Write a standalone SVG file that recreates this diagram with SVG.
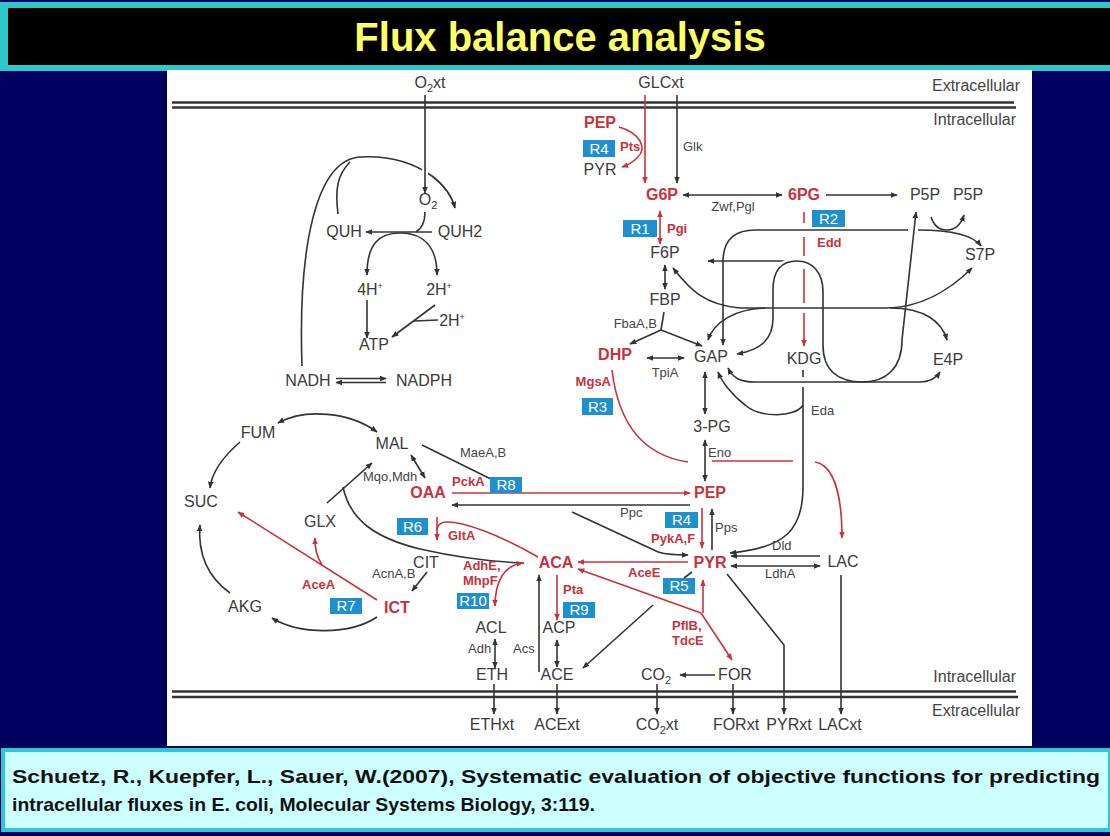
<svg xmlns="http://www.w3.org/2000/svg" width="1110" height="836" viewBox="0 0 1110 836">
<defs>
<marker id="ab" viewBox="0 0 10 10" refX="9" refY="5" markerWidth="7" markerHeight="7" orient="auto-start-reverse" markerUnits="userSpaceOnUse"><path d="M0,1 L10,5 L0,9 z" fill="#333"/></marker>
<marker id="ar" viewBox="0 0 10 10" refX="9" refY="5" markerWidth="7" markerHeight="7" orient="auto-start-reverse" markerUnits="userSpaceOnUse"><path d="M0,1 L10,5 L0,9 z" fill="#c8323c"/></marker>
<style>
text{font-family:"Liberation Sans",Arial,sans-serif}
.m{font-size:16px;fill:#3a3a3a;text-anchor:middle}
.mr{font-size:16px;fill:#c8323c;font-weight:bold;text-anchor:middle}
.e{font-size:13px;fill:#444}
.er{font-size:13px;fill:#c8323c;font-weight:bold}
.rb{fill:#1e90d0}
.rt{font-size:15px;fill:#fff;text-anchor:middle}
.mem{stroke:#333;stroke-width:2.5;fill:none}
.side{font-size:16px;fill:#444;text-anchor:end}
.k{stroke:#333;stroke-width:1.6;fill:none}
.r{stroke:#c8323c;stroke-width:1.6;fill:none}
.halo{stroke:#fff;stroke-width:6;fill:none}
.ka{marker-end:url(#ab)}
.kb{marker-start:url(#ab);marker-end:url(#ab)}
.ra{marker-end:url(#ar)}
.rbb{marker-start:url(#ar);marker-end:url(#ar)}
.cite{font-size:19px;font-weight:bold;fill:#111}
</style>
</defs>
<rect x="0" y="0" width="1110" height="836" fill="#00005f"/>
<g id="title">
<rect x="0" y="2" width="1110" height="69" fill="#2ec7cc"/>
<rect x="8" y="8" width="1102" height="57" fill="#000"/>
<text x="560" y="51" font-size="40" font-weight="bold" fill="#ffff66" text-anchor="middle">Flux balance analysis</text>
</g>
<rect id="panel" x="167" y="70" width="865" height="676" fill="#fff"/>
<g id="citation">
<rect x="3" y="750" width="1107" height="80" fill="#ccffff" stroke="#2ec7d8" stroke-width="4"/>
<text class="cite" x="12" y="783" textLength="1088" lengthAdjust="spacingAndGlyphs">Schuetz, R., Kuepfer, L., Sauer, W.(2007), Systematic evaluation of objective functions for predicting</text>
<text class="cite" x="12" y="811" textLength="583" lengthAdjust="spacingAndGlyphs">intracellular fluxes in E. coli, Molecular Systems Biology, 3:119.</text>
</g>
<g id="membranes">
<line class="mem" x1="172" y1="102.5" x2="1014" y2="102.5"/>
<line class="mem" x1="172" y1="107.5" x2="1016" y2="107.5"/>
<line class="mem" x1="172" y1="691.5" x2="1016" y2="691.5"/>
<line class="mem" x1="172" y1="697" x2="1018" y2="697"/>
<text class="side" x="1020" y="91">Extracellular</text>
<text class="side" x="1016" y="125">Intracellular</text>
<text class="side" x="1016" y="682">Intracellular</text>
<text class="side" x="1020" y="716">Extracellular</text>
</g>
<g id="connectors">
<path class="k ka" d="M302,366 C298,250 315,160 360,157 C395,155 418,166 432,176 C445,186 452,196 455,208"/>
<path class="k" d="M338,214 C335,190 337,175 350,162"/>
<line class="halo" x1="425" y1="150" x2="425" y2="185"/>
<path class="k ka" d="M425,95 L425,193"/>
<path class="k" d="M425,212 C425,222 421,229 416,232"/>
<path class="k ka" d="M432,232 L366,232"/>
<path class="k kb" d="M367,275 C367,245 378,233 400,233 C422,233 437,245 437,275"/>
<path class="k ka" d="M367,300 L367,338"/>
<path class="k ka" d="M435,305 L392,337"/>
<path class="k" d="M414,321 L438,320"/>
<path class="k ka" d="M336,378.5 L386,378.5" stroke-width="1.3"/>
<path class="k ka" d="M386,382.5 L336,382.5" stroke-width="1.3"/>
<path class="r ra" d="M645,95 L645,183"/>
<path class="k ka" d="M677,95 L677,183"/>
<path class="r ra" d="M619,127 C640,133 648,148 637,158 C632,163 628,165 622,167"/>
<path class="k kb" d="M683,195 L782,195"/>
<path class="k ka" d="M826,195 L897,195"/>
<path class="r rbb" d="M660,211 L660,244"/>
<path class="r" d="M804,212 L804,223 M804,237 L804,256 M804,269 L804,303"/>
<path class="r ra" d="M804,313 L804,346"/>
<path class="k kb" d="M665,265 L665,289"/>
<path class="k" d="M664,312 L661,330"/>
<path class="k ka" d="M661,330 L630,344"/>
<path class="k ka" d="M661,330 L702,346"/>
<path class="k kb" d="M647,358 L684,358"/>
<path class="k kb" d="M705,372 L705,414"/>
<path class="k kb" d="M705,440 L705,481"/>
<path class="k ka" d="M908,230 L755,230 C735,230 723,240 723,262 L723,345"/>
<path class="k ka" d="M918,230 C950,230 972,234 981,246"/>
<path class="k ka" d="M931,217 C934,226 940,230 947,230 C956,230 961,224 964,215"/>
<path class="k ka" d="M790,261 L708,261"/>
<path class="k" d="M673,268 C690,290 705,305 740,308 L885,308 C920,308 950,290 972,268" marker-start="url(#ab)" marker-end="url(#ab)"/>
<path class="k" d="M708,340 C714,322 735,309 765,308" marker-start="url(#ab)"/>
<path class="k ka" d="M890,308 C925,308 942,322 947,340"/>
<path class="halo" d="M773,300 L773,290 C773,268 783,261 797,261 C812,261 823,272 823,292 L823,300 M823,318 L823,345 M902,330 L904,318" stroke-width="5"/>
<path class="k kb" d="M737,354 C760,350 773,340 773,318 L773,290 C773,268 783,261 797,261 C812,261 823,272 823,292 L823,345 C823,372 840,382 863,382 C886,382 902,368 902,340 L916,212"/>
<path class="k kb" d="M728,368 C733,378 740,382 755,382 L920,382 C930,382 936,378 940,372"/>
<path class="k" d="M803,370 L803,377"/>
<path class="k ka" d="M803,387 L803,487 C803,530 785,548 730,553"/>
<path class="k ka" d="M803,405 C795,418 760,418 745,405 C732,395 722,382 718,372"/>
<path class="r" d="M612,370 C618,420 640,455 688,462 M712,461 L793,461"/>
<path class="r ra" d="M815,462 C832,465 842,490 842,538"/>
<path class="r ra" d="M452,493 L690,493"/>
<path class="k ka" d="M690,505 L452,505"/>
<path class="k" d="M422,445 L505,486"/>
<path class="k ka" d="M572,512 L656,551 C662,554 670,555 688,555"/>
<path class="r ra" d="M702,508 L702,548"/>
<path class="k ka" d="M712,550 L712,509"/>
<path class="r ra" d="M688,562 L578,562"/>
<path class="r ra" d="M701,613 L578,569"/>
<path class="r ra" d="M701,613 L732,660"/>
<path class="r ra" d="M703,613 L703,580"/>
<path class="k" d="M684,578 L692,572"/>
<path class="r ra" d="M557,575 L557,620"/>
<path class="k ka" d="M539,672 L539,575"/>
<path class="k kb" d="M557,640 L557,667"/>
<path class="k kb" d="M495,639 L495,668"/>
<path class="k ka" d="M653,605 L583,668"/>
<path class="k ka" d="M715,675 L680,675"/>
<path class="k ka" d="M727,574 L784,645 L784,714"/>
<path class="k ka" d="M820,556 L731,556"/>
<path class="k kb" d="M731,566 L820,566"/>
<path class="k ka" d="M841,575 L841,714"/>
<path class="k ka" d="M494,684 L494,714"/>
<path class="k ka" d="M557,684 L557,714"/>
<path class="k ka" d="M657,684 L657,714"/>
<path class="k ka" d="M733,684 L733,714"/>
<path class="k kb" d="M278,423 C305,408 350,412 377,432"/>
<path class="k ka" d="M240,442 C225,455 212,470 210,488"/>
<path class="k ka" d="M230,593 C205,575 198,550 200,525"/>
<path class="k ka" d="M377,617 C350,635 300,635 272,618"/>
<path class="k ka" d="M427,572 L412,591"/>
<path class="k kb" d="M411,455 L425,478"/>
<path class="k ka" d="M327,503 L372,463"/>
<path class="k" d="M343,487 C350,520 375,538 420,549 C460,558 495,562 524,563"/>
<path class="r ra" d="M377,600 L238,512"/>
<path class="r ra" d="M322,565 C316,555 315,548 315,538"/>
<path class="r ra" d="M437,517 L437,540"/>
<path class="r" d="M538,557 C500,535 465,522 447,522 C440,522 437,526 437,530"/>
<path class="r rbb" d="M523,563 C505,565 495,580 495,606"/>
</g>
<g id="n-o2xt"><text class="m" x="430" y="88">O<tspan font-size="11" dy="4">2</tspan><tspan dy="-4">xt</tspan></text></g>
<g id="n-glcxt"><text class="m" x="661" y="88">GLCxt</text></g>
<g id="n-o2"><text class="m" x="428" y="205">O<tspan font-size="11" dy="4">2</tspan></text></g>
<g id="n-quh"><text class="m" x="344" y="237">QUH</text></g>
<g id="n-quh2"><text class="m" x="460" y="237">QUH2</text></g>
<g id="n-4h"><text class="m" x="370" y="295">4H<tspan font-size="9" dy="-6">+</tspan></text></g>
<g id="n-2h"><text class="m" x="439" y="295">2H<tspan font-size="9" dy="-6">+</tspan></text></g>
<g id="n-2h2"><text class="m" x="452" y="326">2H<tspan font-size="9" dy="-6">+</tspan></text></g>
<g id="n-atp"><text class="m" x="374" y="350">ATP</text></g>
<g id="n-nadh"><text class="m" x="308" y="386">NADH</text></g>
<g id="n-nadph"><text class="m" x="424" y="386">NADPH</text></g>
<g id="n-pep1"><text class="mr" x="600" y="128">PEP</text></g>
<g id="r4a"><rect class="rb" x="583" y="140" width="32" height="17"/><text class="rt" x="599" y="154">R4</text></g>
<g id="n-pyr1"><text class="m" x="600" y="175">PYR</text></g>
<g id="n-g6p"><text class="mr" x="662" y="200">G6P</text></g>
<g id="n-6pg"><text class="mr" x="804" y="200">6PG</text></g>
<g id="n-p5p1"><text class="m" x="925" y="200">P5P</text></g>
<g id="n-p5p2"><text class="m" x="968" y="200">P5P</text></g>
<g id="r2"><rect class="rb" x="812" y="210" width="33" height="17"/><text class="rt" x="828.5" y="224">R2</text></g>
<g id="r1"><rect class="rb" x="623" y="220" width="34" height="17"/><text class="rt" x="640" y="234">R1</text></g>
<g id="n-f6p"><text class="m" x="665" y="258">F6P</text></g>
<g id="n-s7p"><text class="m" x="980" y="260">S7P</text></g>
<g id="n-fbp"><text class="m" x="665" y="305">FBP</text></g>
<g id="n-dhp"><text class="mr" x="615" y="360">DHP</text></g>
<g id="n-gap"><text class="m" x="711" y="362" font-size="18">GAP</text></g>
<g id="n-kdg"><text class="m" x="804" y="364" font-size="17">KDG</text></g>
<g id="n-e4p"><text class="m" x="948" y="365">E4P</text></g>
<g id="r3"><rect class="rb" x="582" y="398" width="31" height="17"/><text class="rt" x="597.5" y="412">R3</text></g>
<g id="n-3pg"><text class="m" x="712" y="432" font-size="17">3-PG</text></g>
<g id="n-fum"><text class="m" x="258" y="438">FUM</text></g>
<g id="n-mal"><text class="m" x="392" y="449">MAL</text></g>
<g id="r8"><rect class="rb" x="490" y="477" width="32" height="16"/><text class="rt" x="506" y="490">R8</text></g>
<g id="n-oaa"><text class="mr" x="428" y="498">OAA</text></g>
<g id="n-pep2"><text class="mr" x="710" y="498">PEP</text></g>
<g id="n-suc"><text class="m" x="201" y="507">SUC</text></g>
<g id="r4b"><rect class="rb" x="665" y="512" width="33" height="16"/><text class="rt" x="681.5" y="525">R4</text></g>
<g id="r6"><rect class="rb" x="397" y="518" width="31" height="17"/><text class="rt" x="412.5" y="532">R6</text></g>
<g id="n-glx"><text class="m" x="320" y="527">GLX</text></g>
<g id="n-cit"><text class="m" x="426" y="568">CIT</text></g>
<g id="n-aca"><text class="mr" x="556" y="568">ACA</text></g>
<g id="n-pyr2"><text class="mr" x="710" y="568">PYR</text></g>
<g id="n-lac"><text class="m" x="843" y="567">LAC</text></g>
<g id="r5"><rect class="rb" x="663" y="578" width="32" height="16"/><text class="rt" x="679" y="591">R5</text></g>
<g id="r10"><rect class="rb" x="457" y="593" width="32" height="16"/><text class="rt" x="473" y="606">R10</text></g>
<g id="r7"><rect class="rb" x="330" y="598" width="32" height="16"/><text class="rt" x="346" y="611">R7</text></g>
<g id="r9"><rect class="rb" x="563" y="602" width="32" height="16"/><text class="rt" x="579" y="615">R9</text></g>
<g id="n-ict"><text class="mr" x="397" y="613">ICT</text></g>
<g id="n-akg"><text class="m" x="245" y="612">AKG</text></g>
<g id="n-acl"><text class="m" x="491" y="633">ACL</text></g>
<g id="n-acp"><text class="m" x="559" y="633">ACP</text></g>
<g id="n-eth"><text class="m" x="492" y="680">ETH</text></g>
<g id="n-ace"><text class="m" x="557" y="680">ACE</text></g>
<g id="n-co2"><text class="m" x="656" y="680">CO<tspan font-size="11" dy="4">2</tspan></text></g>
<g id="n-for"><text class="m" x="735" y="680">FOR</text></g>
<g id="n-ethxt"><text class="m" x="492" y="730">ETHxt</text></g>
<g id="n-acext"><text class="m" x="557" y="730">ACExt</text></g>
<g id="n-co2xt"><text class="m" x="657" y="730">CO<tspan font-size="11" dy="4">2</tspan><tspan dy="-4">xt</tspan></text></g>
<g id="n-forxt"><text class="m" x="736" y="730">FORxt</text></g>
<g id="n-pyrxt"><text class="m" x="789" y="730">PYRxt</text></g>
<g id="n-lacxt"><text class="m" x="840" y="730">LACxt</text></g>
<g id="enzymes">
<text class="er" x="620" y="151">Pts</text>
<text class="e" x="683" y="151">Glk</text>
<text class="e" x="733" y="211" text-anchor="middle">Zwf,Pgl</text>
<text class="er" x="667" y="233">Pgi</text>
<text class="er" x="817" y="247">Edd</text>
<text class="e" x="657" y="328" text-anchor="end">FbaA,B</text>
<text class="e" x="665" y="377" text-anchor="middle">TpiA</text>
<text class="er" x="611" y="386" text-anchor="end">MgsA</text>
<text class="e" x="811" y="415">Eda</text>
<text class="e" x="708" y="457">Eno</text>
<text class="e" x="460" y="457">MaeA,B</text>
<text class="e" x="363" y="481">Mqo,Mdh</text>
<text class="er" x="452" y="486">PckA</text>
<text class="e" x="620" y="517">Ppc</text>
<text class="e" x="715" y="532">Pps</text>
<text class="er" x="448" y="540">GltA</text>
<text class="er" x="651" y="543">PykA,F</text>
<text class="e" x="772" y="550">Dld</text>
<text class="er" x="463" y="570">AdhE,</text>
<text class="er" x="628" y="577">AceE</text>
<text class="e" x="372" y="578">AcnA,B</text>
<text class="e" x="765" y="578">LdhA</text>
<text class="er" x="463" y="585">MhpF</text>
<text class="er" x="302" y="589">AceA</text>
<text class="er" x="563" y="594">Pta</text>
<text class="er" x="672" y="630">PflB,</text>
<text class="er" x="672" y="645">TdcE</text>
<text class="e" x="468" y="653">Adh</text>
<text class="e" x="513" y="653">Acs</text>
</g>
</svg>
